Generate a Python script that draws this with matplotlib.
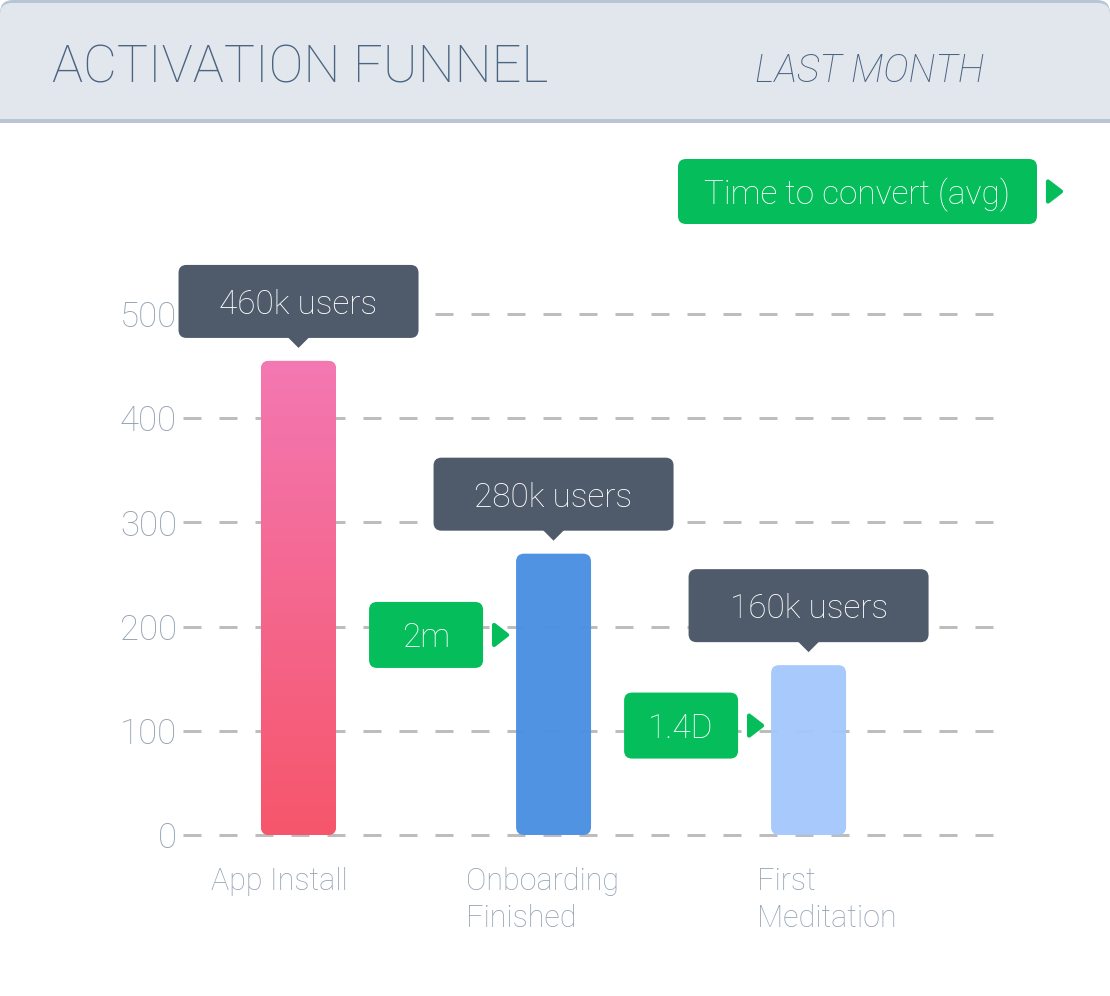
import numpy as np
import matplotlib
matplotlib.use("Agg")
import matplotlib.pyplot as plt
from matplotlib.patches import FancyBboxPatch, Rectangle, Polygon
from matplotlib.colors import LinearSegmentedColormap
from matplotlib import font_manager as fm

# data
stages = ["App Install", "Onboarding\nFinished", "First\nMeditation"]
users_k = [455, 270, 163]          # bar heights (thousands)
user_labels = ["460k users", "280k users", "160k users"]
convert_times = ["2m", "1.4D"]
convert_y = [192, 105]             # vertical position of the time badges (axis units)
yticks = [0, 100, 200, 300, 400, 500]

bar_colors = ["#f6566b", "#4a90e2", "#a4c8fc"]
grad_top, grad_bottom = "#f378b2", "#f6566b"
green = "#05be5b"
tip_dark = "#4f5b6b"
tick_color = "#93a2b3"
title_color = "#4b6482"


def pick_font():
    # thin helvetica-ish look: take the first family that has a light weight
    for fam in ["Roboto", "Lato", "Open Sans", "Inter", "Noto Sans"]:
        for f in fm.fontManager.ttflist:
            w = f.weight if isinstance(f.weight, int) else fm.weight_dict.get(f.weight, 400)
            if f.name == fam and w <= 300:
                return fam, "light"
    return "Liberation Sans", "normal"


FONT, WEIGHT = pick_font()
plt.rcParams["font.family"] = [FONT, "DejaVu Sans"]
plt.rcParams["font.weight"] = WEIGHT

fig = plt.figure(figsize=(11.1, 9.96), dpi=100)

# main axes, placed so the grid runs from x=183..995 px and 0..500 maps to 835..314 px
ax = fig.add_axes([183 / 1110, 1 - 845.4 / 996, 812 / 1110, 552.2 / 996])
ax.set_xlim(-0.453, 2.731)
ax.set_ylim(-10, 520)
for s in ax.spines.values():
    s.set_visible(False)
ax.set_xticks([])
ax.set_yticks(yticks)
ax.set_yticklabels([str(t) for t in yticks])
ax.tick_params(axis="y", length=0, pad=4.5, labelsize=25, labelcolor=tick_color)
for lab in ax.get_yticklabels():
    lab.set_fontweight(WEIGHT)
for t in yticks:
    ax.axhline(t, color="#bdbdbd", lw=2.16, linestyle=(0, (6, 6)), zorder=0)

x = np.arange(len(stages))
bars = ax.bar(x, users_k, width=0.294, color=bar_colors, zorder=1)

p0 = ax.transData.transform((0, 0))
p1 = ax.transData.transform((1, 1))
sx, sy = abs(p1[0] - p0[0]), abs(p1[1] - p0[1])

rounded = []
for b, c in zip(bars, bar_colors):
    b.set_visible(False)
    patch = FancyBboxPatch((b.get_x(), 0), b.get_width(), b.get_height(),
                           boxstyle="round,pad=0,rounding_size=%f" % (8 / sx),
                           mutation_aspect=sx / sy, facecolor=c, edgecolor="none",
                           alpha=0.97, zorder=2)
    ax.add_patch(patch)
    rounded.append(patch)

# pink-to-red gradient on the first bar
b = bars[0]
cmap = LinearSegmentedColormap.from_list("pinkred", [grad_bottom, grad_top])
grad = np.linspace(0, 1, 256).reshape(-1, 1)
im = ax.imshow(grad, extent=(b.get_x(), b.get_x() + b.get_width(), 0, b.get_height()),
               origin="lower", aspect="auto", cmap=cmap, zorder=3)
im.set_clip_path(rounded[0])
ax.set_xlim(-0.453, 2.731)
ax.set_ylim(-10, 520)

# overlay in pixel coordinates for the card decorations
ov = fig.add_axes([0, 0, 1, 1], zorder=5)
ov.set_xlim(0, 1110)
ov.set_ylim(996, 0)
ov.axis("off")
ov.patch.set_alpha(0)


def to_px(xd, yd):
    return ov.transData.inverted().transform(ax.transData.transform((xd, yd)))


# header band
ov.add_patch(FancyBboxPatch((0, 0), 1110, 140, boxstyle="round,pad=0,rounding_size=13",
                            facecolor="#b7c5d5", edgecolor="none"))
ov.add_patch(FancyBboxPatch((0, 3), 1110, 137, boxstyle="round,pad=0,rounding_size=12",
                            facecolor="#e2e7ee", edgecolor="none"))
ov.add_patch(Rectangle((0, 119), 1110, 4, facecolor="#b7c5d5", edgecolor="none"))
ov.add_patch(Rectangle((0, 123), 1110, 20, facecolor="white", edgecolor="none"))
ov.text(52, 82, "ACTIVATION FUNNEL", fontsize=37.5, color=title_color, va="baseline")
ov.text(755, 82, "LAST MONTH", fontsize=28, color=title_color, style="italic", va="baseline")


def arrow(xl, yc):
    ov.add_patch(Polygon([(xl + 2, yc - 10), (xl + 2, yc + 10), (xl + 15, yc)], closed=True,
                         facecolor=green, edgecolor=green, lw=3, joinstyle="round"))


def green_box(xl, yt, w, h, text):
    ov.add_patch(FancyBboxPatch((xl, yt), w, h, boxstyle="round,pad=0,rounding_size=8",
                                facecolor=green, edgecolor="none"))
    ov.text(xl + w / 2, yt + h / 2, text, color="white", fontsize=24,
            ha="center", va="center_baseline")
    arrow(xl + w + 9, yt + h / 2)


# legend badge
green_box(678, 159, 359, 65, "Time to convert (avg)")

# user count tooltips above each bar
for b, lab in zip(bars, user_labels):
    xc, ytop = to_px(b.get_x() + b.get_width() / 2, b.get_height())
    ybot = ytop - 23
    ov.add_patch(FancyBboxPatch((xc - 120, ybot - 73), 240, 73,
                                boxstyle="round,pad=0,rounding_size=8",
                                facecolor=tip_dark, edgecolor="none"))
    ov.add_patch(Polygon([(xc - 11, ybot - 1), (xc + 11, ybot - 1), (xc, ybot + 10)],
                         closed=True, facecolor=tip_dark, edgecolor="none"))
    ov.text(xc, ybot - 36.5, lab, color="white", fontsize=24, ha="center",
            va="center_baseline")

# time-to-convert badges in front of bars 2 and 3
for b, t, yv in zip(bars[1:], convert_times, convert_y):
    xl, yc = to_px(b.get_x(), yv)
    right = xl - 33
    green_box(right - 114, yc - 33, 114, 66, t)

# stage labels
label_dx = [-87.5, -87.5, -51.5]
for b, name, dx in zip(bars, stages, label_dx):
    xc, _ = to_px(b.get_x() + b.get_width() / 2, 0)
    ov.text(xc + dx, 867, name, fontsize=22, color=tick_color, ha="left", va="top",
            linespacing=1.36)

fig.savefig("out.png", dpi=100, facecolor="white")
